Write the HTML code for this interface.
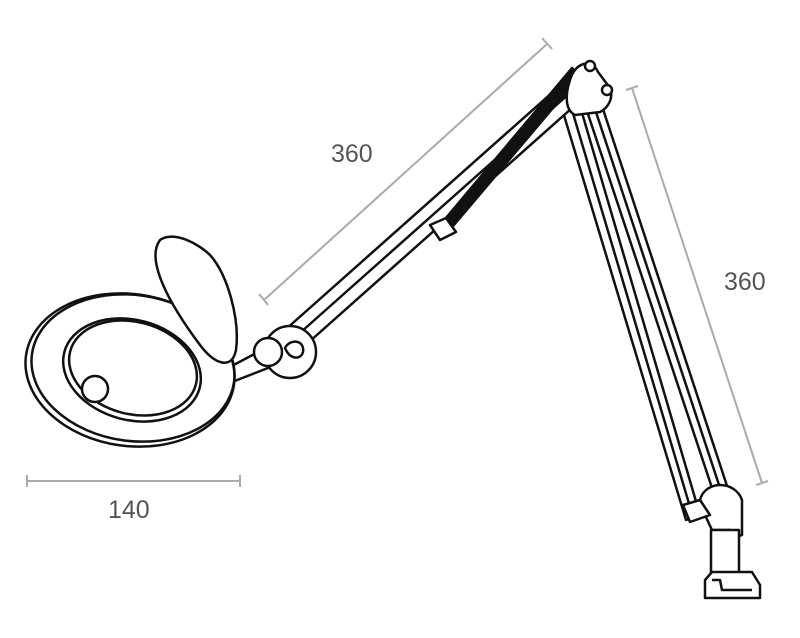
<!DOCTYPE html>
<html><head><style>body{margin:0;background:#fff}svg{display:block}</style></head><body>
<svg width="800" height="638" viewBox="0 0 800 638" xmlns="http://www.w3.org/2000/svg">
<g stroke="#aaa" stroke-width="2" fill="none">
<line x1="264" y1="300" x2="547" y2="44"/><line x1="259" y1="294" x2="268" y2="305"/><line x1="542" y1="38" x2="552" y2="49"/>
<line x1="632" y1="88" x2="762" y2="483"/><line x1="626" y1="90" x2="638" y2="86"/><line x1="756" y1="485" x2="768" y2="481"/>
<line x1="27" y1="481" x2="240" y2="481"/><line x1="27" y1="475" x2="27" y2="487"/><line x1="240" y1="475" x2="240" y2="487"/>
</g>
<g font-family="Liberation Sans, sans-serif" font-size="25" fill="#555">
<text x="331" y="162">360</text><text x="724" y="290">360</text><text x="108" y="518">140</text>
</g>
<g stroke="#111" stroke-width="2.5" fill="#fff" stroke-linejoin="round">
<polygon points="563,112 580,106 700,515 686,520"/>
<polygon points="585,105 600,100 730,495 716,500"/>
<line x1="572" y1="110" x2="693" y2="517"/>
<line x1="593" y1="103" x2="723" y2="497"/>
<polygon points="285,330 572,75 590,92 300,350"/>
<line x1="292" y1="340" x2="580" y2="84"/>
<polygon points="440,225 572,68 580,76 448,232" fill="#111"/>
<polygon points="430,225 446,218 456,232 440,240"/>
<path d="M570,80 C575,62 592,58 598,72 L610,88 C614,98 608,108 600,112 L575,115 C565,110 565,95 570,80Z"/>
<circle cx="590" cy="66" r="5"/><circle cx="607" cy="90" r="5"/>
<path d="M700,500 C705,480 735,480 742,500 L742,535 L732,538 L730,530 L712,530 L705,515 Z"/>
<path d="M683,505 L700,500 L710,515 L690,522 Z"/>
<rect x="711" y="530" width="28" height="45"/>
<path d="M705,580 L712,572 L752,572 L760,585 L760,598 L705,598 Z"/>
<path d="M712,580 L720,580 L722,590 L752,590" fill="none"/>
<polygon points="228,368 262,350 268,368 232,382"/>
<circle cx="290" cy="352" r="26"/>
<path d="M285,348 C290,338 305,340 303,352 C301,360 290,360 285,348Z"/>
<circle cx="268" cy="352" r="14"/>
<ellipse cx="130" cy="370" rx="105" ry="76" transform="rotate(8 130 370)"/>
<ellipse cx="133" cy="368" rx="102" ry="73" transform="rotate(8 133 368)" fill="none"/>
<ellipse cx="132" cy="370" rx="70" ry="50" transform="rotate(15 132 370)"/>
<ellipse cx="133" cy="368" rx="65" ry="46" transform="rotate(15 133 368)" fill="none"/>
<circle cx="95" cy="389" r="13"/>
<path d="M160,240 C175,230 200,245 210,255 C228,275 240,320 236,350 C232,370 215,365 200,345 C170,305 145,260 160,240Z"/>
</g>
</svg>
</body></html>
